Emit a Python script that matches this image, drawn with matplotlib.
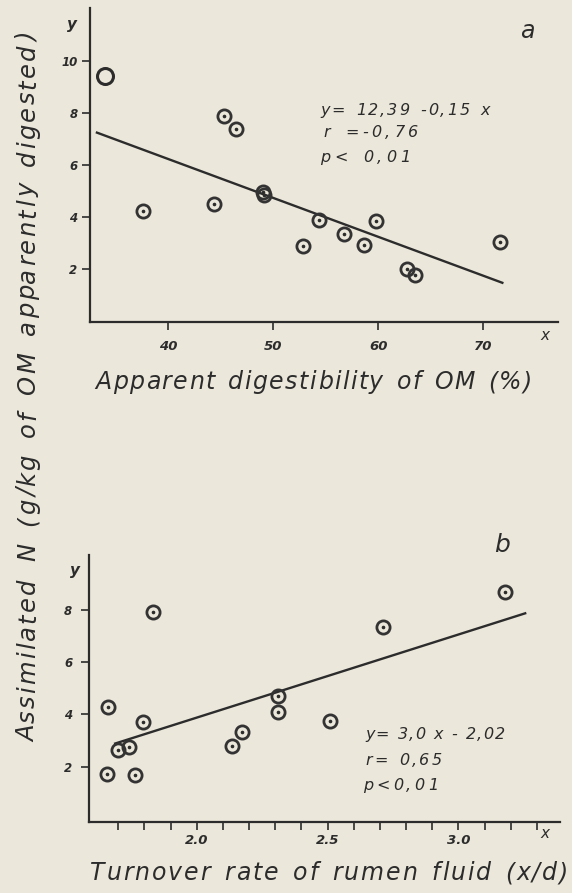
import matplotlib
matplotlib.use('Agg')
import matplotlib.pyplot as plt
from matplotlib.font_manager import FontProperties, findfont
from matplotlib.ft2font import FT2Font

# Panel a: apparent digestibility of OM (%) vs assimilated N
a_x = [37.6, 44.3, 45.3, 46.4, 49.0, 49.1, 52.8, 54.3, 56.7, 58.6, 59.8, 62.7, 63.5, 71.6]
a_y = [4.24, 4.49, 7.89, 7.37, 4.95, 4.85, 2.91, 3.89, 3.34, 2.94, 3.86, 2.03, 1.77, 3.04]
a_open_x = [34.0]
a_open_y = [9.39]
a_line_x = [33.2, 71.8]
a_line_y = [7.24, 1.49]
a_xticks = [40, 50, 60, 70]
a_yticks = [2, 4, 6, 8, 10]
a_notes = ['y= 12,39 -0,15 x', 'r =-0,76', 'p< 0,01']

# Panel b: turnover rate of rumen fluid vs assimilated N
b_x = [1.662, 1.656, 1.700, 1.740, 1.764, 1.794, 1.832, 2.134, 2.172, 2.312, 2.312, 2.510, 2.713, 3.178]
b_y = [4.27, 1.74, 2.64, 2.77, 1.68, 3.72, 7.91, 2.79, 3.34, 4.71, 4.11, 3.75, 7.36, 8.67]
b_line_x = [1.688, 3.255]
b_line_y = [2.89, 7.87]
b_xticks = [2.0, 2.5, 3.0]
b_xticklabels = ['2.0', '2.5', '3.0']
b_minor = [1.7, 1.8, 1.9, 2.1, 2.2, 2.3, 2.4, 2.6, 2.7, 2.8, 2.9, 3.1, 3.2, 3.3]
b_yticks = [2, 4, 6, 8]
b_notes = ['y= 3,0 x - 2,02', 'r= 0,65', 'p<0,01']

W, H = 572, 893
bg = '#ebe7da'
ink = '#2c2c2c'
font = {'family': 'DejaVu Sans', 'style': 'italic', 'color': ink}

fig = plt.figure(figsize=(W / 100, H / 100), dpi=100, facecolor=bg)
ax_a = fig.add_axes([90 / W, 1 - 321.7 / H, 468 / W, 313.4 / H])
ax_b = fig.add_axes([89 / W, 1 - 821.7 / H, 471 / W, 266.7 / H])

ft = FT2Font(findfont(FontProperties(family='DejaVu Sans', style='italic')))


def spread_text(s, size, start, end, base, vertical=False, space_w=3.0):
    # hand-lettered look: spread s from start to end (pixels), word gaps get more room
    ft.set_size(size, 100)
    adv = [ft.load_char(ord(c)).linearHoriAdvance / 65536 for c in s]
    weights = [space_w if c == ' ' else 1.0 for c in s[:-1]] + [0.0]
    track = (abs(end - start) - sum(adv)) / sum(weights)
    pos = start
    for c, a, w in zip(s, adv, weights):
        if c != ' ':
            if vertical:
                fig.text(base / W, 1 - pos / H, c, rotation=90, ha='center',
                         va='bottom', fontsize=size, **font)
            else:
                fig.text(pos / W, 1 - base / H, c, ha='left', va='baseline',
                         fontsize=size, **font)
        step = a + track * w
        pos = pos - step if vertical else pos + step


def style_axes(ax, xpad, ypad):
    ax.set_facecolor(bg)
    for s in ['top', 'right']:
        ax.spines[s].set_visible(False)
    for s in ['left', 'bottom']:
        ax.spines[s].set_color(ink)
        ax.spines[s].set_linewidth(1.6)
    ax.tick_params(which='both', direction='out', width=1.2, color=ink, labelcolor=ink)
    ax.tick_params(axis='x', which='both', length=5.5, labelsize=9.5, pad=xpad)
    ax.tick_params(axis='y', length=6, labelsize=8.5, pad=ypad)
    for lab in ax.get_xticklabels() + ax.get_yticklabels():
        lab.set_style('italic')
        lab.set_fontweight('bold')


def draw_points(ax, xs, ys):
    ax.plot(xs, ys, 'o', ms=9.5, mfc='none', mec='#333333', mew=2.0, zorder=3)
    ax.plot(xs, ys, 'o', ms=1.6, mfc=ink, mec=ink, zorder=4)


# ---- panel a ----
ax_a.plot(a_line_x, a_line_y, color=ink, lw=1.7, zorder=2)
draw_points(ax_a, a_x, a_y)
ax_a.plot(a_open_x, a_open_y, 'o', ms=11.5, mfc='none', mec=ink, mew=2.2, zorder=3)
ax_a.set_xlim(32.54, 77.1)
ax_a.set_ylim(0, 12.0)
ax_a.set_xticks(a_xticks)
ax_a.set_yticks(a_yticks)
style_axes(ax_a, 8, 3)

# ---- panel b ----
ax_b.plot(b_line_x, b_line_y, color=ink, lw=1.7, zorder=2)
draw_points(ax_b, b_x, b_y)
ax_b.set_xlim(1.588, 3.388)
ax_b.set_ylim(-0.1, 10.1)
ax_b.set_xticks(b_xticks)
ax_b.set_xticklabels(b_xticklabels)
ax_b.set_xticks(b_minor, minor=True)
ax_b.set_yticks(b_yticks)
style_axes(ax_b, 3.6, 6)

# regression notes (pixel spans)
a_note_pos = [(320, 490, 115), (323, 418, 137), (320, 410, 162)]
b_note_pos = [(365, 505, 739), (365, 442, 765), (363, 438, 790)]
for t, (x0, x1, yb) in zip(a_notes, a_note_pos):
    spread_text(t, 11.5, x0, x1, yb, space_w=2.0)
for t, (x0, x1, yb) in zip(b_notes, b_note_pos):
    spread_text(t, 11.5, x0, x1, yb, space_w=2.0)

# panel letters and axis letters
fig.text(527 / W, 1 - 31 / H, 'a', fontsize=17, ha='center', va='center', **font)
fig.text(502 / W, 1 - 545 / H, 'b', fontsize=18, ha='center', va='center', **font)
fig.text(72 / W, 1 - 25 / H, 'y', fontsize=11, ha='center', va='center',
         fontweight='bold', **font)
fig.text(75 / W, 1 - 570 / H, 'y', fontsize=11, ha='center', va='center',
         fontweight='bold', **font)
fig.text(545 / W, 1 - 335 / H, 'x', fontsize=11, ha='center', va='center', **font)
fig.text(545 / W, 1 - 834 / H, 'x', fontsize=11, ha='center', va='center', **font)

# axis titles
spread_text('Apparent digestibility of OM (%)', 17, 95, 532, 389)
spread_text('Turnover rate of rumen fluid (x/d)', 17, 90, 568, 880)
spread_text('Assimilated N (g/kg of OM apparently digested)', 17.5, 742, 33, 28,
            vertical=True)

fig.savefig('out.png', dpi=100, facecolor=bg)
